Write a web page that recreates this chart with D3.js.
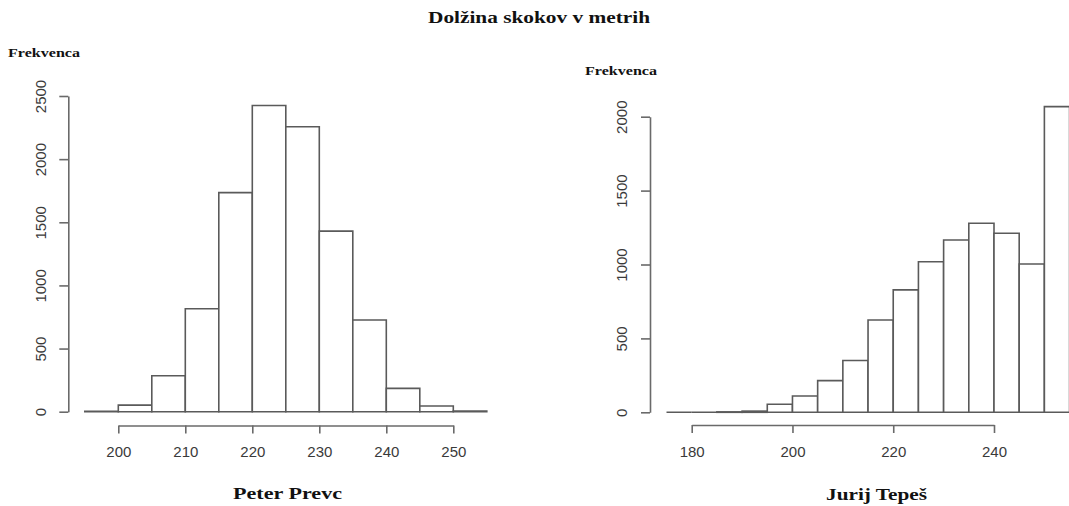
<!DOCTYPE html>
<html>
<head>
<meta charset="utf-8">
<script src="https://cdn.jsdelivr.net/npm/d3@7"></script>
<style>
  html, body { margin: 0; padding: 0; background: #fff; }
  svg { display: block; }
</style>
</head>
<body>
<svg id="chart" width="1069" height="506"></svg>
<script>
// ---- data ----
const mainTitle = "Dolžina skokov v metrih";
const yLabel = "Frekvenca";

const prevcName = "Peter Prevc";
const prevcBinStarts = [195, 200, 205, 210, 215, 220, 225, 230, 235, 240, 245, 250];
const prevcCounts    = [4, 52, 285, 815, 1735, 2425, 2257, 1430, 726, 185, 45, 5];
const prevcXTicks = [200, 210, 220, 230, 240, 250];
const prevcYTicks = [0, 500, 1000, 1500, 2000, 2500];

const tepesName = "Jurij Tepeš";
const tepesBinStarts = [175, 180, 185, 190, 195, 200, 205, 210, 215, 220, 225, 230, 235, 240, 245, 250];
const tepesCounts    = [0, 0, 3, 8, 54, 110, 214, 350, 625, 828, 1019, 1166, 1279, 1211, 1003, 2068];
const tepesXTicks = [180, 200, 220, 240];
const tepesYTicks = [0, 500, 1000, 1500, 2000];
const binWidth = 5;

// ---- drawing ----
const svg = d3.select("#chart");
const serif = "'Liberation Serif', 'Times New Roman', serif";
const sans = "'Liberation Sans', Arial, sans-serif";

function fitText(sel, width) {
  sel.attr("textLength", width).attr("lengthAdjust", "spacingAndGlyphs");
}

svg.append("text")
  .attr("x", 539).attr("y", 22.5)
  .attr("text-anchor", "middle")
  .attr("font-family", serif).attr("font-weight", "bold").attr("font-size", 17)
  .attr("fill", "#111")
  .text(mainTitle)
  .call(fitText, 222);

function panel(cfg) {
  const x = d3.scaleLinear().domain(cfg.xDomain).range(cfg.xRange);
  const y = d3.scaleLinear().domain(cfg.yDomain).range(cfg.yRange);
  const g = svg.append("g");

  // bars (as closed paths so empty bins still show a line)
  g.selectAll("path.bar")
    .data(cfg.starts.map((s, i) => ({ s, c: cfg.counts[i] })))
    .join("path")
    .attr("class", "bar")
    .attr("d", d => {
      const x0 = x(d.s), x1 = x(d.s + binWidth), y0 = y(0), y1 = y(d.c);
      return `M${x0},${y0}V${y1}H${x1}V${y0}Z`;
    })
    .attr("fill", "#fff")
    .attr("stroke", "#5a5a5a")
    .attr("stroke-width", 1.6);

  const fmt = d3.format("d");
  // x axis
  const xa = g.append("g")
    .attr("transform", `translate(0,${cfg.xAxisY})`)
    .call(d3.axisBottom(x).tickValues(cfg.xTicks).tickFormat(fmt).tickSize(8).tickSizeOuter(0).tickPadding(13));
  // y axis
  const ya = g.append("g")
    .attr("transform", `translate(${cfg.yAxisX},0)`)
    .call(d3.axisLeft(y).tickValues(cfg.yTicks).tickFormat(fmt).tickSize(9).tickSizeOuter(0));

  [xa, ya].forEach(a => {
    a.select(".domain").attr("stroke", "#6a6a6a").attr("stroke-width", 1.6);
    a.selectAll(".tick line").attr("stroke", "#6a6a6a").attr("stroke-width", 1.6);
    a.selectAll(".tick text")
      .attr("font-family", sans).attr("font-size", 15).attr("fill", "#3a3a3a");
  });
  xa.selectAll(".tick text").attr("dy", "0.71em");
  ya.selectAll(".tick text")
    .attr("x", 0).attr("y", -28).attr("dy", "0.35em")
    .attr("text-anchor", "middle")
    .attr("transform", "rotate(-90)");

  // y label
  g.append("text")
    .attr("x", cfg.ylabX).attr("y", cfg.ylabY)
    .attr("font-family", serif).attr("font-weight", "bold").attr("font-size", 12)
    .attr("fill", "#111")
    .text(yLabel)
    .call(fitText, 72);

  // x label
  g.append("text")
    .attr("x", cfg.xlabX).attr("y", cfg.xlabY)
    .attr("text-anchor", "middle")
    .attr("font-family", serif).attr("font-weight", "bold").attr("font-size", 17)
    .attr("fill", "#111")
    .text(cfg.name)
    .call(fitText, cfg.xlabW);
}

panel({
  name: prevcName, starts: prevcBinStarts, counts: prevcCounts,
  xTicks: prevcXTicks, yTicks: prevcYTicks,
  xDomain: [200, 250], xRange: [118.3, 453.3],
  yDomain: [0, 2500], yRange: [411.7, 96],
  xAxisY: 425.5, yAxisX: 68.3,
  ylabX: 8, ylabY: 56.5,
  xlabX: 287.5, xlabY: 498.5, xlabW: 109
});

panel({
  name: tepesName, starts: tepesBinStarts, counts: tepesCounts,
  xTicks: tepesXTicks, yTicks: tepesYTicks,
  xDomain: [180, 240], xRange: [691.7, 994],
  yDomain: [0, 2000], yRange: [412.3, 116.7],
  xAxisY: 425, yAxisX: 650,
  ylabX: 585, ylabY: 75,
  xlabX: 876.5, xlabY: 500, xlabW: 101
});
</script>
</body>
</html>
